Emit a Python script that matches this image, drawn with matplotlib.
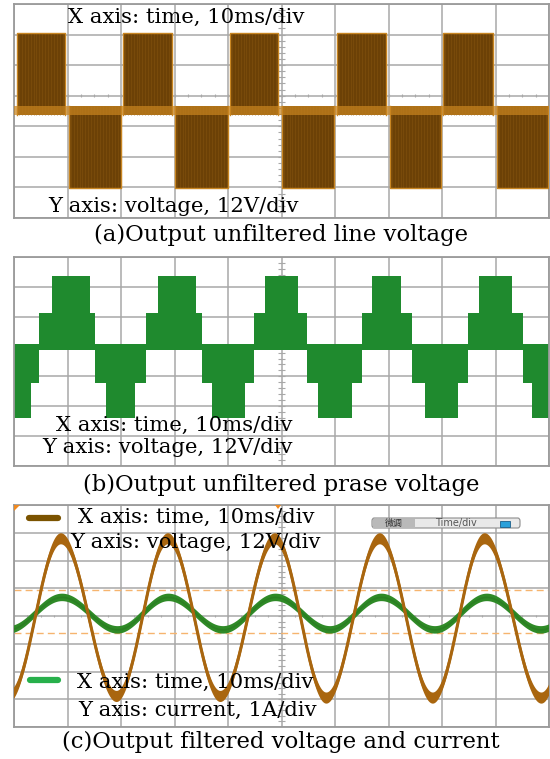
import numpy as np
import matplotlib
matplotlib.use('Agg')
import matplotlib.pyplot as plt
from matplotlib.patches import FancyBboxPatch, Rectangle, Polygon
from matplotlib.lines import Line2D

W, H, DPI = 550, 759, 100

# ---------------- data ----------------
# common: 10 ms/div, 10 divisions
x_ticks_ms = list(range(0, 101, 10))

# Panel (a): unfiltered line voltage, 12 V/div
a_scale_V = 12.0
a_pos_start = [0.6, 20.4, 40.4, 60.4, 80.2]
a_pos_end = [9.5, 29.5, 49.3, 69.5, 89.5]
a_neg_start = [10.3, 30.1, 50.1, 70.3, 90.3]
a_neg_end = [20.0, 40.0, 59.8, 79.8, 99.8]
a_pos_level_V = 30.6
a_neg_level_V = -30.3
a_zero_band_V = [-1.7, 1.9]
a_stripe_ms = 0.55

# Panel (b): unfiltered phase voltage, 12 V/div (step edges in ms, level in V)
b_scale_V = 12.0
b_edges_ms = [0.0, 3.1, 4.7, 7.05, 14.2, 15.1, 17.2, 22.6, 24.7, 27.0, 34.1, 35.1,
              37.0, 43.2, 44.9, 46.9, 53.1, 54.8, 56.8, 63.1, 65.0, 66.9, 72.3,
              74.3, 76.8, 83.0, 84.9, 86.9, 93.0, 95.2, 96.8, 100.0]
b_levels_V = [-28.6, -14.5, 13.5, 28.4, 13.5, -14.5, -28.6, -14.5, 13.5, 28.4, 13.5,
              -14.5, -28.6, -14.5, 13.5, 28.4, 13.5, -14.5, -28.6, -14.5, 13.5,
              28.4, 13.5, -14.5, -28.6, -14.5, 13.5, 28.4, 13.5, -14.5, -28.6]

# Panel (c): filtered voltage (12 V/div) and current (1 A/div): extremes of the traces
c_v_scale = 12.0
c_i_scale = 1.0
volt_ext_ms = [-0.9, 8.8, 19.2, 28.8, 38.6, 48.8, 58.4, 68.4, 78.3, 88.0, 98.6, 108.4]
volt_ext_V = [-34.8, 33.4, -34.8, 33.4, -34.8, 33.4, -35.5, 33.4, -35.5, 33.4, -35.5, 33.4]
curr_ext_ms = [-1.0, 9.0, 19.4, 28.9, 39.1, 48.9, 59.1, 68.7, 78.7, 88.4, 98.5, 108.5]
curr_ext_A = [-0.50, 0.67, -0.50, 0.67, -0.50, 0.67, -0.50, 0.67, -0.50, 0.67, -0.50, 0.67]
c_cursor_div = [0.93, -0.62]

txt_x = "X axis: time, 10ms/div"
txt_yv = "Y axis: voltage, 12V/div"
txt_yi = "Y axis: current, 1A/div"
captions = ["(a)Output unfiltered line voltage",
            "(b)Output unfiltered prase voltage",
            "(c)Output filtered voltage and current"]

# ---------------- figure ----------------
fig = plt.figure(figsize=(W / DPI, H / DPI), dpi=DPI)
fig.patch.set_facecolor('white')


def fx(px):
    return px / W


def fy(py):
    return 1 - py / H


def add_panel(top, bottom):
    return fig.add_axes([fx(14), fy(bottom), fx(549) - fx(14), fy(top) - fy(bottom)])


GRID = '#a8a8a8'


def style(ax, ylo, yhi, ygrid):
    ax.set_xlim(0, 100)
    ax.set_ylim(ylo, yhi)
    ax.set_xticks(x_ticks_ms)
    ax.set_yticks(ygrid)
    ax.tick_params(length=0, labelbottom=False, labelleft=False)
    ax.grid(True, color=GRID, lw=1.1, zorder=0)
    ax.set_axisbelow(True)
    for s in ax.spines.values():
        s.set_color('#9a9a9a')
        s.set_linewidth(1.3)


def center_ticks(ax, yline, ylo, yhi):
    ax.vlines(np.arange(0, 100.01, 2.5), yline - 0.05, yline + 0.05, color=GRID, lw=0.8, zorder=1)
    ax.hlines(np.arange(ylo, yhi, 0.2), 49.4, 50.6, color=GRID, lw=0.8, zorder=1)


FONT = 'DejaVu Serif'

# ---- panel (a)
axa = add_panel(4, 218)
style(axa, -3.5, 3.5, np.arange(-3.5, 3.51, 1.0))
center_ticks(axa, 0.5, -3.5, 3.5)
DARK = '#6c4106'
STRIPE = '#83520f'
EDGE = '#c98622'
zb0 = a_zero_band_V[0] / a_scale_V
zb1 = a_zero_band_V[1] / a_scale_V
for s, e in zip(a_pos_start, a_pos_end):
    top = a_pos_level_V / a_scale_V
    axa.fill_between([s, e], zb0, top, color=DARK, lw=0, zorder=2)
    axa.vlines(np.arange(s + 0.3, e, a_stripe_ms), zb0, top,
               color=STRIPE, lw=0.8, alpha=0.55, zorder=2)
    axa.plot([s, s, e, e], [zb0, top, top, zb0], color=EDGE, lw=1.0, zorder=3)
for s, e in zip(a_neg_start, a_neg_end):
    bot = a_neg_level_V / a_scale_V
    axa.fill_between([s, e], zb1, bot, color=DARK, lw=0, zorder=2)
    axa.vlines(np.arange(s + 0.3, e, a_stripe_ms), bot, zb1,
               color=STRIPE, lw=0.8, alpha=0.55, zorder=2)
    axa.plot([s, s, e, e], [zb1, bot, bot, zb1], color=EDGE, lw=1.0, zorder=3)
axa.fill_between([0, 100], zb0, zb1, color='#c8841f', lw=0, alpha=0.72, zorder=4)

# ---- panel (b)
axb = add_panel(257, 466)
style(axb, -4, 3, np.arange(-4, 3.01, 1.0))
center_ticks(axb, 0.0, -4, 3)
lv = np.array(b_levels_V + [b_levels_V[-1]]) / b_scale_V
base = np.where(lv > 0, -0.12, 0.1)
axb.fill_between(b_edges_ms, base, lv, step='post', color='#1f8a2e', lw=0, zorder=2)
axb.fill_between([0, 100], -0.12, 0.1, color='#1f8a2e', lw=0, zorder=2)


# ---- panel (c)
def trace(ext_t, ext_v, scale):
    ts, ys = [], []
    for t0, t1, v0, v1 in zip(ext_t[:-1], ext_t[1:], ext_v[:-1], ext_v[1:]):
        tt = np.linspace(t0, t1, 60)
        ts.append(tt)
        ys.append(((v0 + v1) / 2 + (v0 - v1) / 2 * np.cos(np.pi * (tt - t0) / (t1 - t0))) / scale)
    return np.concatenate(ts), np.concatenate(ys)


axc = add_panel(505, 727)
style(axc, -4, 4, np.arange(-4, 4.01, 1.0))
center_ticks(axc, 0.0, -4, 4)
for yc in c_cursor_div:
    axc.axhline(yc, color='#f6b46e', lw=1.0, ls=(0, (5, 3)), zorder=1)
tg, yg = trace(curr_ext_ms, curr_ext_A, c_i_scale)
axc.fill_between(tg, yg - 0.135, yg + 0.135, color='#2f8a27', lw=0, zorder=3)
axc.plot(tg, yg, color='#2a7f22', lw=1.2, zorder=3)
tv, yv = trace(volt_ext_ms, volt_ext_V, c_v_scale)
axc.fill_between(tv, yv - 0.2, yv + 0.2, color='#a9660f', lw=0, zorder=4)
axc.plot(tv, yv, color='#a9660f', lw=2.2, zorder=4)

# ---------------- texts ----------------
TS = 15.2
CS = 16.4
fig.text(fx(68), fy(17), txt_x, family=FONT, fontsize=TS, va='center', ha='left')
fig.text(fx(48), fy(206), txt_yv, family=FONT, fontsize=TS, va='center', ha='left')
fig.text(fx(56), fy(425), txt_x, family=FONT, fontsize=TS, va='center', ha='left')
fig.text(fx(42), fy(447), txt_yv, family=FONT, fontsize=TS, va='center', ha='left')
fig.text(fx(78), fy(517), txt_x, family=FONT, fontsize=TS, va='center', ha='left')
fig.text(fx(70), fy(543), txt_yv, family=FONT, fontsize=TS, va='center', ha='left')
fig.text(fx(77), fy(682), txt_x, family=FONT, fontsize=TS, va='center', ha='left')
fig.text(fx(78), fy(710), txt_yi, family=FONT, fontsize=TS, va='center', ha='left')
for cap, yy in zip(captions, [235, 485, 742]):
    fig.text(fx(281), fy(yy), cap, family=FONT, fontsize=CS, va='center', ha='center')

# legend strokes in panel (c)
fig.add_artist(Line2D([fx(29), fx(58)], [fy(518), fy(518)], transform=fig.transFigure,
                      color='#7b5300', lw=4.5, solid_capstyle='round'))
fig.add_artist(Line2D([fx(30), fx(58)], [fy(680), fy(680)], transform=fig.transFigure,
                      color='#27b04b', lw=4.5, solid_capstyle='round'))

# scope widget
fig.add_artist(FancyBboxPatch((fx(372), fy(528)), fx(520) - fx(372), fy(518) - fy(528),
                              boxstyle='round,pad=0,rounding_size=0.004',
                              transform=fig.transFigure, fc='#e9e9e9', ec='#8c8c8c', lw=0.8))
fig.add_artist(Rectangle((fx(373), fy(527.5)), fx(415) - fx(373), fy(518.5) - fy(527.5),
                         transform=fig.transFigure, fc='#b9b9b9', ec='none'))
fig.add_artist(Rectangle((fx(500), fy(527)), fx(510) - fx(500), fy(521) - fy(527),
                         transform=fig.transFigure, fc='#2aa0da', ec='#1a5f8a', lw=0.6))
fig.text(fx(394), fy(523), '微调', family=['Noto Sans CJK SC', 'DejaVu Sans'], fontsize=6.5,
         color='#333333', ha='center', va='center')
fig.text(fx(456), fy(523), 'Time/div', family='DejaVu Sans', fontsize=7, color='#555555',
         ha='center', va='center')

# trigger markers
fig.add_artist(Polygon([(fx(14), fy(505)), (fx(20), fy(505)), (fx(14), fy(511))],
                       transform=fig.transFigure, fc='#f08a20', ec='none'))
fig.add_artist(Polygon([(fx(275), fy(505)), (fx(281), fy(505)), (fx(278), fy(509))],
                       transform=fig.transFigure, fc='#f08a20', ec='none'))

fig.savefig('out.png', dpi=DPI)
